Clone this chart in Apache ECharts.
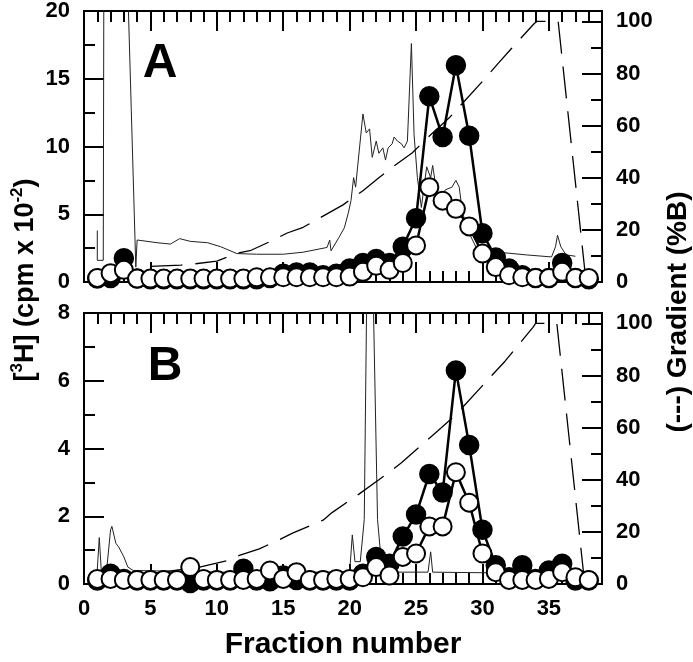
<!DOCTYPE html>
<html><head><meta charset="utf-8">
<script src="https://cdn.jsdelivr.net/npm/echarts@6/dist/echarts.min.js"></script>
<style>html,body{margin:0;padding:0;background:#fff}#c{width:693px;height:662px}</style>
</head><body><div id="c"></div>
<script>
// ---- data ----
const fractions = [1,2,3,4,5,6,7,8,9,10,11,12,13,14,15,16,17,18,19,20,21,22,23,24,25,26,27,28,29,30,31,32,33,34,35,36,37,38];
const filledA = [0.25,0.3,1.75,0.25,0.2,0.2,0.2,0.2,0.2,0.2,0.2,0.2,0.2,0.3,0.6,0.7,0.7,0.5,0.6,1.0,1.4,1.7,1.4,2.6,4.7,13.7,10.7,16.0,10.8,3.6,1.8,1.0,0.5,0.3,0.3,1.4,0.3,0.2];
const openA = [0.3,0.65,0.9,0.25,0.25,0.25,0.25,0.25,0.25,0.25,0.25,0.25,0.35,0.35,0.35,0.35,0.35,0.35,0.35,0.4,0.75,1.2,0.9,1.4,2.7,7.0,6.0,5.4,4.1,2.1,1.1,0.5,0.35,0.3,0.3,0.75,0.3,0.3];
const filledB = [0.1,0.3,0.15,0.1,0.1,0.1,0.1,0.03,0.1,0.1,0.1,0.45,0.1,0.08,0.25,0.12,0.1,0.1,0.1,0.1,0.3,0.8,0.6,1.4,2.05,3.25,2.7,6.3,4.1,1.6,0.55,0.2,0.55,0.15,0.4,0.6,0.1,0.1];
const openB = [0.15,0.15,0.12,0.12,0.12,0.12,0.12,0.5,0.15,0.12,0.12,0.12,0.15,0.4,0.15,0.35,0.12,0.12,0.15,0.15,0.2,0.5,0.25,0.8,0.9,1.7,1.7,3.3,2.4,0.9,0.35,0.12,0.12,0.12,0.15,0.35,0.2,0.12];
// absorbance trace (fraction, value on left scale)
const traceA = [[1.0,3.8],[1.0,1.6],[1.45,1.6],[1.5,25],[3.2,25],[3.9,1.1],[4.0,3.1],[5.5,2.9],[6.5,2.8],[7.2,3.2],[8,3.0],[9.3,2.9],[10.3,2.6],[11.5,2.1],[13,2.05],[15,2.05],[16.5,2.2],[18.3,2.55],[18.5,3.1],[18.6,2.3],[19.2,3.3],[19.6,4.0],[19.9,5.1],[20.1,6.0],[20.3,7.7],[20.45,7.0],[20.6,8.5],[21.0,12.4],[21.25,11.0],[21.5,11.3],[21.7,9.2],[22.0,10.4],[22.2,9.5],[22.5,9.9],[22.7,9.0],[22.9,9.9],[23.2,10.2],[23.35,10.7],[23.6,10.4],[23.9,10.2],[24.1,9.9],[24.35,10.4],[24.65,17.6],[24.85,10.9],[25.1,7.7],[25.4,5.5],[25.8,8.5],[26.1,7.7],[26.25,8.6],[26.5,7.0],[26.75,6.0],[27.2,6.8],[27.7,7.0],[28.0,7.5],[28.25,7.0],[28.5,5.1],[29,3.6],[29.5,2.6],[30.3,2.35],[31.2,2.2],[33.3,2.0],[35.2,1.85],[35.5,2.6],[35.65,3.45],[35.9,2.6],[36.3,2.0],[37,1.9]];
const traceB = [[1.0,0.42],[1.15,1.37],[1.3,0.4],[1.7,0.4],[2.0,1.6],[2.1,1.7],[2.4,1.2],[2.6,1.1],[3.0,0.8],[3.3,0.5],[3.7,0.4],[10,0.35],[20.0,0.35],[20.2,1.45],[20.4,0.66],[20.8,0.66],[21.1,1.9],[21.3,9],[21.75,9],[22.1,1.9],[22.35,0.8],[22.8,0.35],[25.9,0.35],[26.1,0.95],[26.25,0.35],[37,0.3]];
// gradient (%B, right scale)
const gradientA = [[5,6],[7.3,6.5],[8.4,7],[10,8],[11.5,11],[12.5,12],[14,15.5],[15.3,18.8],[16.5,21],[19.5,29.6],[21,35],[22.2,40],[23.2,44],[24.7,49.5],[26,56],[27.5,63],[28.5,68.6],[30,77],[31.2,84],[32.2,89.7],[33.9,99.2],[34.1,100],[35.7,100],[37.8,0]];
const gradientB = [[5,4],[8.7,6.5],[10.8,9],[11.7,11],[13.2,13.5],[14.7,17],[15.7,19.5],[18,24.5],[18.7,27.5],[20.7,34.5],[22.2,40],[23.9,46.5],[26.9,60],[28,65],[30.7,80],[31.7,85.5],[33.8,98.5],[34.0,100],[35.6,100],[37.7,0]];
const xTicks = [0,5,10,15,20,25,30,35];
const yTicksA = [0,5,10,15,20];
const yTicksB = [0,2,4,6,8];
const yTicksR = [0,20,40,60,80,100];

// ---- chart ----
const FONT = '"Liberation Sans", Arial, sans-serif';
const LBL = {color:'#000', fontFamily:FONT, fontWeight:'bold', fontSize:22};
function xAx(grid, pos, interval, len, labels){
  return {type:'value', gridIndex:grid, position:pos, min:0, max:39, interval:interval,
    axisLine:{show:true, onZero:false, lineStyle:{color:'#000', width:2}},
    axisTick:{show:true, inside:true, length:len, lineStyle:{color:'#000', width:2}},
    axisLabel:labels ? Object.assign({show:true, margin:14, showMaxLabel:false,
      formatter:v => xTicks.includes(v) ? String(v) : ''}, LBL) : {show:false},
    splitLine:{show:false}};
}
function yAx(grid, pos, max, interval, len, ticks){
  return {type:'value', gridIndex:grid, position:pos, min:0, max:max, interval:interval,
    axisLine:{show:true, onZero:false, lineStyle:{color:'#000', width:2}},
    axisTick:{show:true, inside:true, length:len, lineStyle:{color:'#000', width:2}},
    axisLabel:ticks ? Object.assign({show:true, margin:14,
      formatter:v => ticks.includes(v) ? String(v) : ''}, LBL) : {show:false},
    splitLine:{show:false}};
}
const pts = arr => fractions.map((f,i)=>[f, arr[i]]);
function panelSeries(g, filled, open, trace, grad){
  const xi = g*4, yl = g*4, yr = g*4+2;
  return [
    {type:'line', xAxisIndex:xi, yAxisIndex:yl, data:trace, showSymbol:false, symbol:'none',
      lineStyle:{color:'#222', width:1}, z:2, clip:true, silent:true},
    {type:'line', xAxisIndex:xi, yAxisIndex:yr, data:grad, showSymbol:false, symbol:'none',
      lineStyle:{color:'#000', width:1.3, type:[32,13]}, z:2, clip:true, silent:true},
    {type:'line', xAxisIndex:xi, yAxisIndex:yl, data:pts(filled), showSymbol:false, symbol:'none',
      lineStyle:{color:'#000', width:2.5}, z:3, silent:true},
    {type:'line', xAxisIndex:xi, yAxisIndex:yl, data:pts(open), showSymbol:false, symbol:'none',
      lineStyle:{color:'#000', width:2.5}, z:3, silent:true},
    {type:'scatter', xAxisIndex:xi, yAxisIndex:yl, data:pts(filled), symbol:'circle', symbolSize:19,
      itemStyle:{color:'#000', borderColor:'#000', borderWidth:1.5, opacity:1}, z:4, silent:true},
    {type:'scatter', xAxisIndex:xi, yAxisIndex:yl, data:pts(open), symbol:'circle', symbolSize:18,
      itemStyle:{color:'#fff', borderColor:'#000', borderWidth:2, opacity:1}, z:5, silent:true}
  ];
}
const chart = echarts.init(document.getElementById('c'), null, {renderer:'canvas'});
chart.setOption({
  animation:false,
  backgroundColor:'#fff',
  grid:[
    {left:84, right:91, top:10, height:272, containLabel:false},
    {left:84, right:91, top:313, height:271, containLabel:false}
  ],
  xAxis:[
    xAx(0,'bottom',5,20,false), xAx(0,'bottom',1,11,false), xAx(0,'top',5,20,false), xAx(0,'top',1,11,false),
    xAx(1,'bottom',5,20,true), xAx(1,'bottom',1,11,false), xAx(1,'top',5,20,false), xAx(1,'top',1,11,false)
  ],
  yAxis:[
    yAx(0,'left',20,5,20,yTicksA), yAx(0,'left',20,2.5,11,null), yAx(0,'right',104,20,20,yTicksR), yAx(0,'right',104,10,11,null),
    yAx(1,'left',8,2,20,yTicksB), yAx(1,'left',8,1,11,null), yAx(1,'right',104,20,20,yTicksR), yAx(1,'right',104,10,11,null)
  ],
  series:[].concat(panelSeries(0, filledA, openA, traceA, gradientA), panelSeries(1, filledB, openB, traceB, gradientB)),
  graphic:[
    {type:'text', x:160, y:64, style:{text:'A', font:'bold 48px '+FONT, fill:'#000', textAlign:'center', textVerticalAlign:'middle', verticalAlign:'middle'}},
    {type:'text', x:165, y:367, style:{text:'B', font:'bold 48px '+FONT, fill:'#000', textAlign:'center', textVerticalAlign:'middle', verticalAlign:'middle'}},
    {type:'text', x:343, y:645, style:{text:'Fraction number', font:'bold 30px '+FONT, fill:'#000', textAlign:'center', textVerticalAlign:'middle', verticalAlign:'middle'}},
    {type:'text', x:24, y:280, rotation:Math.PI/2, style:{
      text:'{m|[}{s|3}{m|H] (cpm x 10}{s|-2}{m|)}',
      textAlign:'center', textVerticalAlign:'middle', verticalAlign:'middle', fill:'#000',
      rich:{m:{font:'bold 27px '+FONT, fill:'#000', lineHeight:30, verticalAlign:'bottom'},
            s:{font:'bold 17px '+FONT, fill:'#000', lineHeight:30, verticalAlign:'top'}}}},
    {type:'text', x:678, y:312, rotation:Math.PI/2, style:{text:'(---) Gradient (%B)', font:'bold 28px '+FONT, fill:'#000', textAlign:'center', textVerticalAlign:'middle', verticalAlign:'middle'}}
  ]
});
</script>
</body></html>
